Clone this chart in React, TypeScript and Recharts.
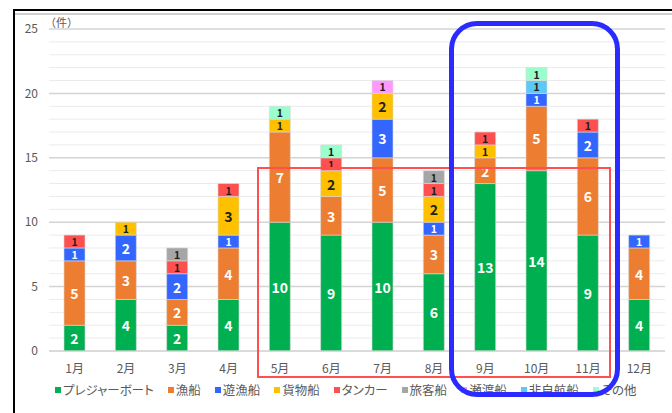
import { BarChart, Bar, XAxis, YAxis, CartesianGrid, LabelList } from 'recharts'

const months = ['1月', '2月', '3月', '4月', '5月', '6月', '7月', '8月', '9月', '10月', '11月', '12月']

const pleasure = [2, 4, 2, 4, 10, 9, 10, 6, 13, 14, 9, 4]
const fishing = [5, 3, 2, 4, 7, 3, 5, 3, 2, 5, 6, 4]
const yugyo = [1, 2, 2, 1, 0, 0, 3, 1, 0, 1, 2, 1]
const cargo = [0, 1, 0, 3, 1, 2, 2, 2, 1, 0, 0, 0]
const tanker = [1, 0, 1, 1, 0, 1, 0, 1, 1, 0, 1, 0]
const passenger = [0, 0, 1, 0, 0, 0, 0, 1, 0, 0, 0, 0]
const setogashi = [0, 0, 0, 0, 0, 0, 1, 0, 0, 0, 0, 0]
const nonPowered = [0, 0, 0, 0, 0, 0, 0, 0, 0, 1, 0, 0]
const others = [0, 0, 0, 0, 1, 1, 0, 0, 0, 1, 0, 0]

const majorTicks = [0, 5, 10, 15, 20, 25]
const yTicks = Array.from({ length: 26 }, (_, i) => i)

const series = [
  { key: 'pleasure', name: 'プレジャーボート', values: pleasure, color: '#00b050', text: '#ffffff' },
  { key: 'fishing', name: '漁船', values: fishing, color: '#ed7d31', text: '#ffffff' },
  { key: 'yugyo', name: '遊漁船', values: yugyo, color: '#3366ff', text: '#ffffff' },
  { key: 'cargo', name: '貨物船', values: cargo, color: '#ffc000', text: '#222222' },
  { key: 'tanker', name: 'タンカー', values: tanker, color: '#ff5050', text: '#222222' },
  { key: 'passenger', name: '旅客船', values: passenger, color: '#a6a6a6', text: '#222222' },
  { key: 'setogashi', name: '瀬渡船', values: setogashi, color: '#ff99ff', text: '#222222' },
  { key: 'nonPowered', name: '非自航船', values: nonPowered, color: '#5bc8f5', text: '#222222' },
  { key: 'others', name: 'その他', values: others, color: '#99ffcc', text: '#222222' },
]

const data = months.map((m, i) => {
  const row: Record<string, string | number> = { month: m }
  series.forEach(s => { row[s.key] = s.values[i] })
  return row
})

const font = '"Noto Sans CJK JP", "Noto Sans", sans-serif'

const segLabel = (color: string) => (props: any) => {
  const { x, y, width, height, value } = props
  if (!value) return null
  return (
    <text
      x={x + width / 2}
      y={y + height / 2}
      textAnchor="middle"
      dominantBaseline="central"
      fill={color}
      fontSize={value === 1 ? 10.5 : 14}
      fontWeight="bold"
      fontFamily={font}
    >
      {value}
    </text>
  )
}

// every 5th grid line a little darker
const gridLine = (p: any) => (
  <line
    key={`g-${p.index}`}
    x1={p.x1}
    y1={p.y1}
    x2={p.x2}
    y2={p.y2}
    stroke={p.index % 5 === 0 ? '#d4d4d4' : '#ebebeb'}
    strokeWidth={p.index % 5 === 0 ? 1.5 : 1}
  />
)

export default function App() {
  return (
    <div style={{ position: 'relative', width: 672, height: 413, background: '#fff', overflow: 'hidden', fontFamily: font }}>
      <style>{'body{margin:0}'}</style>
      {/* frame */}
      <div style={{ position: 'absolute', left: 13, top: 9, width: 700, height: 420, borderLeft: '2px solid #000', borderTop: '2px solid #000' }} />
      <div style={{ position: 'absolute', left: 15, top: 13, width: 700, height: 2, background: '#cfcfcf' }} />

      <div style={{ position: 'absolute', left: 0, top: 0 }}>
        <BarChart width={672} height={413} data={data} margin={{ top: 29, right: 7, left: 9, bottom: 32 }} barSize={21}>
          <CartesianGrid vertical={false} horizontal={gridLine} />
          <XAxis
            dataKey="month"
            height={30}
            axisLine={{ stroke: '#d6d6d6' }}
            tickLine={false}
            tickSize={0}
            tickMargin={13}
            tick={{ fill: '#595959', fontSize: 12, fontFamily: font }}
            interval={0}
          />
          <YAxis
            width={40}
            domain={[0, 25]}
            ticks={yTicks}
            interval={0}
            axisLine={false}
            tickLine={false}
            tickSize={0}
            tickMargin={11}
            tickFormatter={(v: number) => (majorTicks.includes(v) ? String(v) : '')}
            tick={{ fill: '#595959', fontSize: 12, fontFamily: font }}
          />
          {series.map(s => (
            <Bar key={s.key} dataKey={s.key} name={s.name} stackId="a" fill={s.color} stroke="#d9d9d9" strokeWidth={0.6} isAnimationActive={false}>
              <LabelList dataKey={s.key} content={segLabel(s.text)} />
            </Bar>
          ))}
          <text x={45} y={22} fontSize={11} fill="#595959" fontFamily={font} dominantBaseline="central">（件）</text>
        </BarChart>
      </div>

      {/* legend */}
      <div style={{ position: 'absolute', left: 55, top: 380, display: 'flex', alignItems: 'center', gap: 14, fontSize: 12.5, color: '#595959', fontFeatureSettings: '"palt"', whiteSpace: 'nowrap' }}>
        {series.map(s => (
          <span key={s.key} style={{ display: 'flex', alignItems: 'center', gap: 2 }}>
            <span style={{ width: 6, height: 6, background: s.color, display: 'inline-block' }} />
            {s.name}
          </span>
        ))}
      </div>

      {/* annotations */}
      <div style={{ position: 'absolute', left: 257, top: 167, width: 350, height: 207, border: '2px solid #ff4f4f', pointerEvents: 'none' }} />
      <div style={{ position: 'absolute', left: 449, top: 21, width: 161, height: 366, border: '5px solid #2b2bff', borderRadius: 28, pointerEvents: 'none' }} />
    </div>
  )
}
